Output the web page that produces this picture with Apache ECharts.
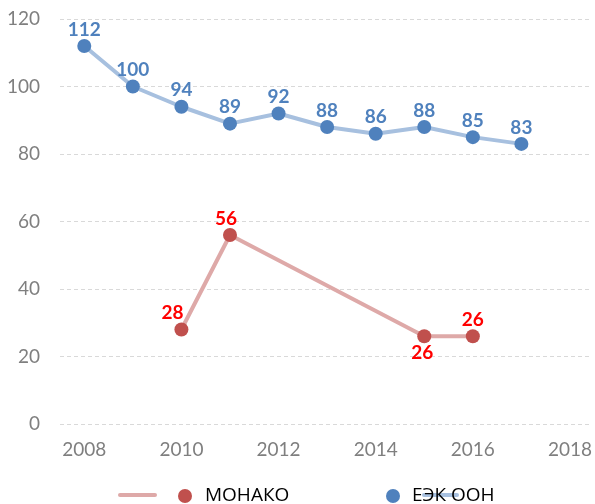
<!DOCTYPE html>
<html>
<head>
<meta charset="utf-8">
<script src="https://cdn.jsdelivr.net/npm/echarts@6/dist/echarts.min.js"></script>
<style>html,body{margin:0;padding:0;background:#fff}#c{width:595px;height:504px}</style>
</head>
<body>
<div id="c"></div>
<script>
var yearsUNECE = [2008, 2009, 2010, 2011, 2012, 2013, 2014, 2015, 2016, 2017];
var valuesUNECE = [112, 100, 94, 89, 92, 88, 86, 88, 85, 83];
var yearsMonaco = [2010, 2011, 2015, 2016];
var valuesMonaco = [28, 56, 26, 26];
var xTickLabels = [2008, 2010, 2012, 2014, 2016, 2018];
var yTickLabels = [0, 20, 40, 60, 80, 100, 120];
var nameMonaco = 'МОНАКО';
var nameUNECE = 'ЕЭК ООН';

var chart = echarts.init(document.getElementById('c'));
var axisFont = {color: '#7f7f7f', fontSize: 19, fontFamily: 'Lato, "Open Sans", sans-serif'};

var monacoLabelPos = [
  {position: 'top', offset: [-9, 0]},
  {position: 'top', offset: [-4, 0]},
  {position: 'bottom', offset: [-2, 0]},
  {position: 'top', offset: [0, 0]}
];

chart.setOption({
  animation: false,
  grid: {left: 60, right: 0, top: 19, bottom: 80},
  xAxis: {
    type: 'value', min: 2007.5, max: 2018.4,
    axisLine: {show: false}, axisTick: {show: false}, splitLine: {show: false},
    axisLabel: Object.assign({customValues: xTickLabels, margin: 16, formatter: function(v){return String(v);}}, axisFont)
  },
  yAxis: {
    type: 'value', min: 0, max: 120, interval: 20,
    axisLine: {show: false}, axisTick: {show: false},
    splitLine: {lineStyle: {color: '#d9d9d9', type: [4, 3], width: 1}},
    axisLabel: Object.assign({margin: 20}, axisFont)
  },
  legend: [
    {data: [nameMonaco], left: 178, top: 485, itemWidth: 14, itemHeight: 14, icon: 'circle', padding: 0,
     textStyle: {color: '#000', fontSize: 19, lineHeight: 22, fontFamily: '"Open Sans", sans-serif', padding: [0, 0, 0, 8]}},
    {data: [nameUNECE], left: 386, top: 485, itemWidth: 14, itemHeight: 14, icon: 'circle', padding: 0,
     textStyle: {color: '#000', fontSize: 19, lineHeight: 22, fontFamily: '"Open Sans", sans-serif', padding: [0, 0, 0, 7]}}
  ],
  graphic: [
    {type: 'line', z: -1, shape: {x1: 120, y1: 495, x2: 155, y2: 495}, style: {stroke: '#dea9a8', lineWidth: 4, lineCap: 'round'}},
    {type: 'line', z: -1, shape: {x1: 424, y1: 495, x2: 457, y2: 495}, style: {stroke: '#a7c0df', lineWidth: 4, lineCap: 'round'}}
  ],
  series: [
    {
      name: nameUNECE, type: 'line',
      data: yearsUNECE.map(function(y, i){return [y, valuesUNECE[i]];}),
      symbol: 'circle', symbolSize: 14,
      itemStyle: {color: '#4f81bd'},
      lineStyle: {color: '#a7c0df', width: 4},
      label: {show: true, position: 'top', distance: 0, color: '#4f81bd', fontWeight: 'bold', fontSize: 19,
              fontFamily: 'Lato, "Open Sans", sans-serif', formatter: function(p){return p.value[1];}}
    },
    {
      name: nameMonaco, type: 'line',
      data: yearsMonaco.map(function(y, i){
        return {value: [y, valuesMonaco[i]], label: monacoLabelPos[i]};
      }),
      symbol: 'circle', symbolSize: 14,
      itemStyle: {color: '#c0504d'},
      lineStyle: {color: '#dea9a8', width: 4},
      label: {show: true, position: 'top', distance: 0, color: '#ff0000', fontWeight: 'bold', fontSize: 19,
              fontFamily: 'Lato, "Open Sans", sans-serif', formatter: function(p){return p.value[1];}}
    }
  ]
});
</script>
</body>
</html>
